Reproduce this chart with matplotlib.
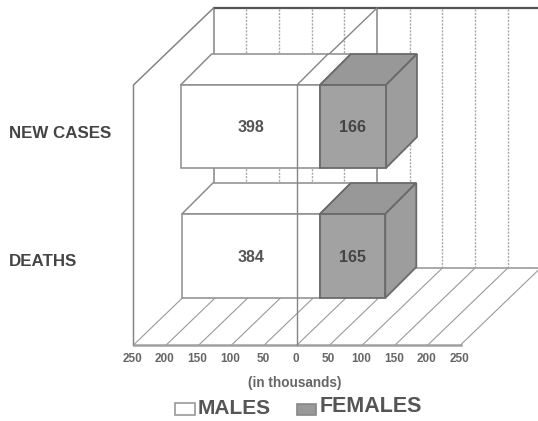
import matplotlib
matplotlib.use('Agg')
import matplotlib.pyplot as plt
from matplotlib.patches import Polygon, Rectangle

plt.rcParams['font.family'] = ['Liberation Sans', 'DejaVu Sans']

# categories and values
categories = ['NEW CASES', 'DEATHS']
males = [398, 384]
females = [166, 165]
ticks = [-250, -200, -150, -100, -50, 0, 50, 100, 150, 200, 250]
tick_labels = ['250', '200', '150', '100', '50', '0', '50', '100', '150', '200', '250']

# bar ends as they sit against the front scale (drawn lengths do not follow the printed numbers)
male_left = [-178, -176]
split = [35, 35]
female_right = [136, 135]
bar_bottom = [177, 47]
bar_top = [260, 131]

# 1 thousand = .654 px, y unit = 1 px above the front floor edge
PX = 0.654
DX = 80/PX
DY = 77
BDX = 31/PX
BDY = 31
WALL = 260
GRID = '#a8a8a8'
EDGE = '#858585'

fig = plt.figure(figsize=(5.38, 4.21), dpi=100)
ax = fig.add_axes([0, 0, 1, 1])
ax.set_xlim(-297/PX, (538-297)/PX)
ax.set_ylim(-76, 345)
ax.axis('off')

# back wall
for t in ticks:
    solid = t in (-250, 0)
    ax.plot([t+DX, t+DX], [DY, WALL+DY], color=EDGE if solid else GRID,
            lw=1.1 if solid else 1.0, ls='-' if solid else (0, (1.5, 1)), zorder=1)
ax.plot([-250+DX, 250+DX], [WALL+DY, WALL+DY], color='#555555', lw=1.6, zorder=1)
ax.plot([-250+DX, 250+DX], [DY, DY], color='#aaaaaa', lw=1.4, zorder=1)

# floor
for t in ticks:
    ax.plot([t, t+DX], [0, DY], color='#9a9a9a', lw=0.8, zorder=1)
ax.plot([-250, 250], [0, 0], color='#a0a0a0', lw=1.8, zorder=1)

# left wall
ax.plot([-250, -250, -250+DX], [0, WALL, WALL+DY], color=EDGE, lw=1.1, zorder=1)


def box(x0, x1, y0, y1, front, top, side, edge, lw):
    ax.add_patch(Polygon([(x0, y1), (x0+BDX, y1+BDY), (x1+BDX, y1+BDY), (x1, y1)],
                         fc=top, ec=edge, lw=lw, zorder=3))
    ax.add_patch(Polygon([(x1, y0), (x1+BDX, y0+BDY), (x1+BDX, y1+BDY), (x1, y1)],
                         fc=side, ec=edge, lw=lw, zorder=3))
    ax.add_patch(Rectangle((x0, y0), x1-x0, y1-y0, fc=front, ec=edge, lw=lw, zorder=3))


for i in range(len(categories)):
    box(male_left[i], split[i], bar_bottom[i], bar_top[i], 'white', 'white', 'white', '#8c8c8c', 1.1)
    box(split[i], female_right[i], bar_bottom[i], bar_top[i], '#a2a2a2', '#989898', '#9d9d9d', '#6a6a6a', 1.3)
    mid = (bar_bottom[i]+bar_top[i])/2 - 1
    ax.text(-70, mid, str(males[i]), ha='center', va='center', fontsize=11.5, fontweight='bold', color='#555555', zorder=5)
    ax.text(85, mid, str(females[i]), ha='center', va='center', fontsize=11.5, fontweight='bold', color='#444444', zorder=5)

# zero plane runs over the male bars
ax.plot([0, 0], [0, WALL], color=EDGE, lw=1.0, zorder=4)
ax.plot([0, DX], [WALL, WALL+DY], color=EDGE, lw=1.0, zorder=2)
ax.plot([0, BDX], [WALL, WALL+BDY], color=EDGE, lw=1.0, zorder=4)

# category labels
ax.text(-441, 212, categories[0], ha='left', va='center', fontsize=12.2, fontweight='bold', color='#444444')
ax.text(-441, 83, categories[1], ha='left', va='center', fontsize=12.2, fontweight='bold', color='#444444')

# axis text
for t, lab in zip(ticks, tick_labels):
    ax.text(t-2, -14, lab, ha='center', va='center', fontsize=8.5, fontweight='bold', color='#666666')
ax.text(-4, -38, '(in thousands)', ha='center', va='center', fontsize=9.8, fontweight='bold', color='#666666')

# legend
ax.add_patch(Rectangle((-186, -70), 30, 12, fc='white', ec='#999999', lw=1.2))
ax.text(-152, -63, 'MALES', ha='left', va='center', fontsize=15, fontweight='bold', color='#555555')
ax.add_patch(Rectangle((0, -70), 29, 11, fc='#999999', ec='#888888', lw=1.2))
ax.text(35, -61, 'FEMALES', ha='left', va='center', fontsize=15.5, fontweight='bold', color='#555555')

fig.savefig('out.png', dpi=100)
